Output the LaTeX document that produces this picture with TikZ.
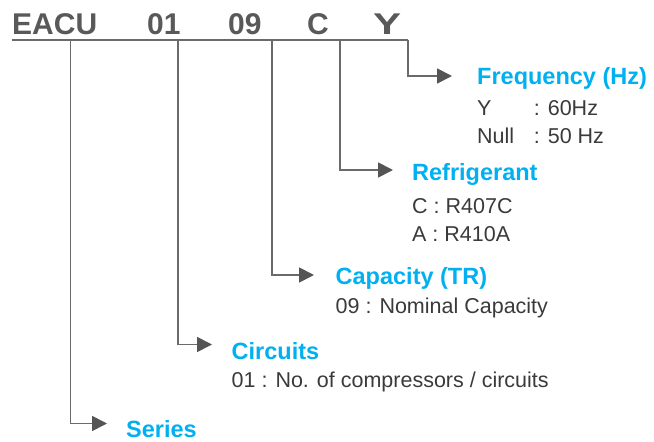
\documentclass[tikz,border=0pt]{standalone}
\usepackage{fontspec}
\setmainfont{Liberation Sans}
\usetikzlibrary{arrows.meta}
\definecolor{codegray}{HTML}{595959}
\definecolor{linegray}{HTML}{6A6A6A}
\definecolor{arrowgray}{HTML}{555555}
\definecolor{headblue}{HTML}{00B0F0}
\definecolor{bodygray}{HTML}{3A3A3A}
\tikzset{
    codetext/.style={anchor=base west, inner sep=0pt, text=codegray,
        font=\fontsize{30}{30}\selectfont\bfseries},
    headtext/.style={anchor=base west, inner sep=0pt, text=headblue,
        font=\fontsize{23.5}{24}\selectfont\bfseries},
    bodytext/.style={anchor=base west, inner sep=0pt, text=bodygray,
        font=\fontsize{21.5}{22}\selectfont},
    branch/.style={draw=linegray, line width=1.8pt,
        -{Triangle[length=15pt,width=15pt,color=arrowgray]}},
}
\newcommand{\drawcodebranch}[7]{
    % #1 name, #2 x of the drop, #3 y of the arrow, #4 x of the tip,
    % #5 x of the text, #6 baseline of the heading, #7 heading
    \coordinate (#1top) at (#2,40);
    \coordinate (#1tip) at (#4,#3);
    \node[headtext] (#1head) at (#5,#6) {#7};
    \draw[branch] (#1top) |- (#1tip);
}

\begin{document}
\begin{tikzpicture}[x=1pt,y=-1pt]
\useasboundingbox (0,0) rectangle (654,442);

% -------------------------
% Model code
% -------------------------
\node[codetext] (series) at (12,34.5) {EACU};
\node[codetext] (circuits) at (147,34.5) {01};
\node[codetext] (capacity) at (228,34.5) {09};
\node[codetext] (refrigerant) at (307,34.5) {C};
\node[codetext] (frequency) at (373,34.5) {\scalebox{1.4}[1]{Y}};

\coordinate (rulestart) at (12,40);
\coordinate (ruleend) at (408,40);
\draw[linegray, line width=2pt] (rulestart) -- (ruleend);

% -------------------------
% Branches
% -------------------------
\drawcodebranch{freq}{408}{76}{452}{477}{84.3}{Frequency (Hz)}
\drawcodebranch{refr}{340}{170}{393}{412}{180.7}{Refrigerant}
\drawcodebranch{capa}{272}{275}{314}{335.5}{284}{Capacity (TR)}
\drawcodebranch{circ}{178}{344.5}{212}{231.5}{359}{Circuits}
\drawcodebranch{seri}{70.5}{423.5}{107}{126}{437}{Series}

% -------------------------
% Meaning of each code
% -------------------------
\node[bodytext] (freqY) at (477,115.3) {\makebox[56.7pt][l]{Y}: 60Hz};
\node[bodytext] (freqNull) at (477,143.3) {\makebox[56.7pt][l]{Null}: 50 Hz};

\node[bodytext] (refrC) at (412,213.3) {C : R407C};
\node[bodytext] (refrA) at (412,241) {A : R410A};

\node[bodytext] (capaNominal) at (335.5,313.3) {09 : Nominal Capacity};

\node[bodytext] (circCount) at (231.5,387.3) {01 : No. of compressors / circuits};

\end{tikzpicture}
\end{document}
